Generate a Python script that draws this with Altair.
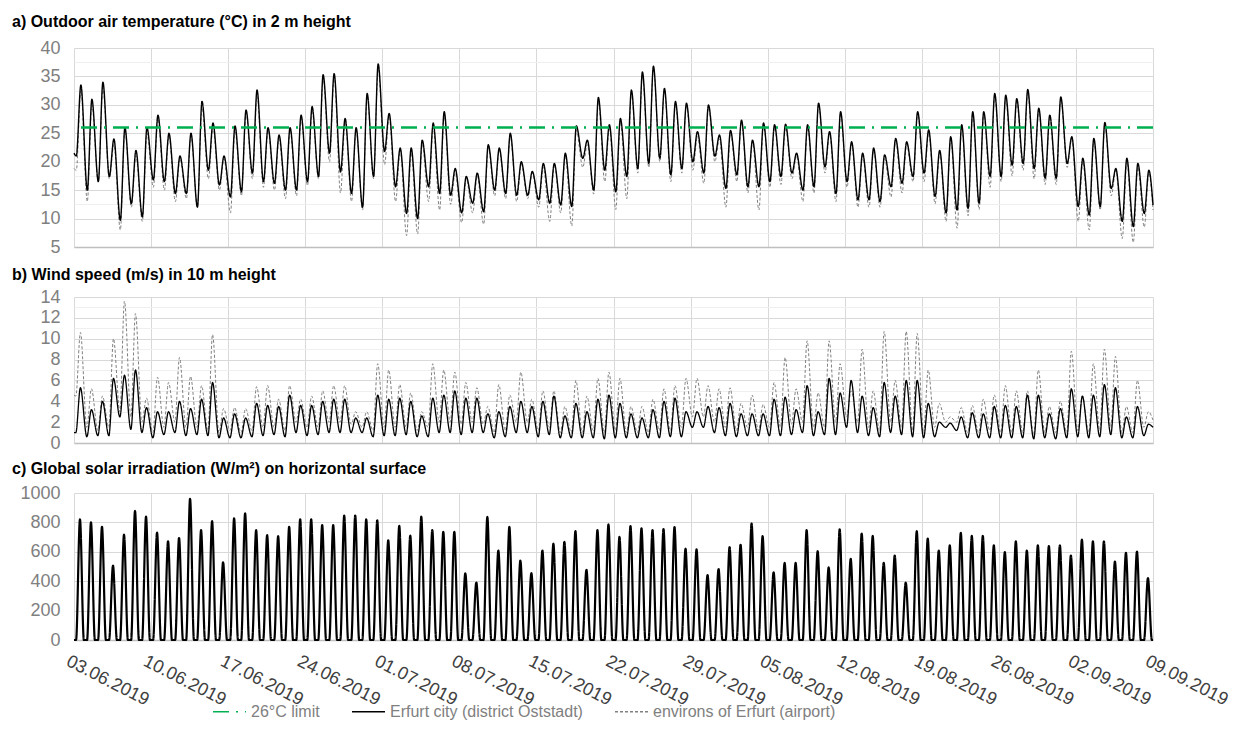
import altair as alt
import pandas as pd

FONT = "Liberation Sans"

TICK_LABELS = ["03.06.2019", "10.06.2019", "17.06.2019", "24.06.2019", "01.07.2019",
               "08.07.2019", "15.07.2019", "22.07.2019", "29.07.2019", "05.08.2019",
               "12.08.2019", "19.08.2019", "26.08.2019", "02.09.2019", "09.09.2019"]
SERIES = ["26°C limit", "Erfurt city (district Oststadt)", "environs of Erfurt (airport)"]
COLORS = ["#00b050", "#000000", "#808080"]
DASHES = [[16, 7, 2, 7], [1, 0], [3, 2]]
LIMIT_C = 26.0

TITLE_A = "a) Outdoor air temperature (°C) in 2 m height"
TITLE_B = "b) Wind speed (m/s) in 10 m height"
TITLE_C = "c) Global solar irradiation (W/m²) on horizontal surface"

# ---- a) temperature: daily maximum (afternoon) and morning minimum
TEMP_CITY_MAX = [33.5, 31, 34, 24, 26, 22, 26, 28.2, 25, 21,
                 25, 30.6, 26.8, 21, 26.3, 29.1, 32.6, 26, 24.7, 26,
                 28.2, 29.7, 35.3, 35.5, 27.6, 26, 32, 37.2, 28.5, 22.4,
                 22.4, 23.8, 26.8, 28.8, 18.8, 17.4, 18, 23, 22.4, 25,
                 20, 18.3, 19.7, 19.7, 21.5, 26.3, 23.8, 31.3, 26.5, 27.6,
                 32.6, 35.8, 36.8, 32.9, 30.6, 30.3, 25.3, 30, 24.7, 25.5,
                 27.3, 23.8, 26.8, 26.5, 26.6, 21.5, 26.5, 30.3, 25.3, 28.8,
                 23.5, 21.5, 22.4, 21.2, 24.1, 23.5, 28.8, 25.6, 22, 24.4,
                 26.5, 28.8, 28.8, 32, 31.7, 31.1, 32.7, 29.4, 28.2, 31.4,
                 24.4, 20.6, 24.1, 26.9, 18.8, 20.6, 19.7, 18.5]
TEMP_CITY_MIN = [21, 15, 16.5, 17.4, 9.7, 12.6, 10.3, 16.8, 16.5, 14.4,
                 14.4, 12, 18.5, 15.9, 13.8, 14.7, 18, 16.5, 16.2, 15,
                 15, 16.5, 17.4, 21.5, 18.2, 14.4, 12, 17.4, 21.8, 15.6,
                 10.9, 10, 15.6, 14.4, 14.1, 11, 12.7, 11.2, 15, 14.4,
                 14.1, 14.1, 13.3, 12.7, 12.4, 12.1, 20.6, 15, 18.5, 14.7,
                 17.4, 18.8, 19.7, 20.6, 17.7, 18.8, 20, 18, 21, 15.3,
                 17.7, 15.6, 15.6, 16.5, 17.4, 18, 15, 15.6, 19.1, 14.4,
                 16.5, 13.3, 13.3, 13, 15.6, 16.2, 17.4, 18, 13.9, 11,
                 11.5, 11.8, 12.7, 17.4, 17.4, 19.4, 19.7, 18.8, 17.1, 17.1,
                 19.7, 12.1, 10.6, 12.1, 15.3, 9.5, 8.6, 10.9, 12.4]
TEMP_AIR_MAX = [32.5, 30, 33, 23, 25.5, 21, 25, 27.5, 24.5, 20.5,
                24.5, 29.5, 26, 20.5, 25.5, 28.5, 31.5, 25.5, 24, 25.5,
                27.5, 29, 34.5, 35, 27, 25.5, 31.5, 36.5, 28, 22,
                21.5, 23, 26, 28, 18, 17, 17.5, 22.5, 22, 24.5,
                19.5, 18, 19, 19.5, 21, 25.5, 23, 30.5, 26, 27,
                32, 35, 36.5, 32.5, 30, 30, 24.5, 29.5, 24, 25,
                27, 23.5, 26.5, 26, 26, 21, 26, 30, 25, 28.5,
                23, 21, 22, 20.5, 23.5, 23, 28.5, 25, 21.5, 24,
                26, 28.5, 28.5, 31.5, 31, 30.5, 32, 29, 27.5, 31,
                24, 20, 23.5, 26.5, 18.5, 20, 19, 18]
TEMP_AIR_MIN = [18.5, 13, 16.5, 17, 8, 12, 9.5, 15.5, 15, 13,
                13.5, 12, 17, 15, 11, 14, 17, 15.5, 15, 13.5,
                14, 15.8, 17, 20, 14.5, 13, 11.5, 17, 19.5, 13,
                7, 7.3, 13, 11.5, 12.5, 9.3, 11, 9, 14, 13.5,
                13, 13.5, 12, 9.5, 11, 8.7, 19, 14.3, 16.5, 11.6,
                13.5, 18, 19, 20, 16.5, 18, 18.5, 16.2, 20, 12,
                16.5, 14.5, 11.5, 15.5, 16, 17, 13, 14.5, 18, 13,
                15.5, 12, 12, 12, 13.8, 14.5, 16.5, 16.5, 12.6, 9.5,
                8.3, 10.5, 11.6, 15.5, 16.5, 17.5, 18.5, 17, 16, 16,
                19, 9.5, 8, 11.5, 14, 6.5, 5.8, 8.5, 11.5]
TEMP_START = [21.5, 18.8]  # city, airport at 03.06 00:00

# ---- b) wind speed: daily maximum and night minimum
WIND_CITY_MAX = [5.3, 3.2, 4, 6.2, 6.5, 7, 3.4, 3, 3, 4,
                 3.3, 4.2, 5.8, 2.4, 2.8, 2.4, 3.8, 3.6, 3.5, 4.6,
                 3.6, 3.6, 4, 4.2, 4.2, 2.4, 2.4, 4.6, 4.2, 4.3,
                 4, 2.6, 4.3, 4.6, 5, 4.3, 4.3, 2.8, 3, 3.5,
                 4, 3.5, 4, 4.5, 2.6, 3.8, 3, 4.2, 4.6, 3.8,
                 2.8, 2.4, 3.2, 4, 4.3, 3, 3, 3.5, 3.4, 3.8,
                 2.8, 2.8, 2.8, 4.2, 4.4, 3.2, 5.5, 3, 6.2, 4.8,
                 6, 4.5, 3.4, 5.8, 4.5, 6, 6, 3.8, 2, 1.9,
                 2.5, 2.9, 2.8, 3.5, 3.6, 3.5, 4.6, 4.6, 2.8, 3.3,
                 5.2, 4.5, 4.6, 5.6, 5.3, 2.5, 3.5, 1.8]
WIND_CITY_MIN = [1, 0.6, 0.7, 0.7, 2.5, 1.3, 1, 0.5, 0.8, 1,
                 0.7, 0.8, 0.7, 0.5, 0.5, 0.5, 0.6, 0.7, 0.8, 0.6,
                 1, 0.7, 0.8, 1, 1, 1, 1, 0.6, 0.7, 0.7,
                 0.8, 0.6, 0.6, 1, 1, 0.8, 1, 1, 0.5, 0.6,
                 1, 1, 0.6, 0.8, 0.5, 0.5, 0.5, 0.5, 0.4, 0.5,
                 0.5, 0.5, 0.5, 0.5, 0.6, 0.6, 1.5, 1.5, 1, 0.7,
                 0.6, 0.7, 0.7, 0.7, 0.7, 0.8, 1, 0.7, 0.8, 0.8,
                 1.5, 1, 0.7, 0.6, 1, 0.8, 0.6, 0.5, 0.6, 1.5,
                 1.2, 0.5, 0.5, 0.5, 0.5, 0.5, 0.5, 0.4, 0.5, 0.4,
                 0.5, 0.6, 0.5, 0.6, 0.8, 0.5, 0.5, 0.7, 1.5]
WIND_AIR_MAX = [10.6, 5.2, 4.5, 10, 13.6, 12.4, 4.3, 6.3, 5.8, 8.2,
                6.4, 5.5, 10.4, 3.3, 3.4, 3.3, 5.4, 5.5, 4.2, 5.5,
                4.2, 4.5, 5, 5.5, 5.5, 3, 3, 7.6, 7, 5.6,
                4.8, 3, 7.6, 7, 6.8, 5.8, 5.3, 3.5, 5.6, 4.6,
                6.8, 4.2, 5, 5, 3.5, 6, 4.5, 6.2, 6.8, 6.2,
                3.5, 3.5, 4.2, 5.2, 5.5, 6.2, 6.2, 5.5, 5.2, 5.3,
                3.8, 4.6, 3.7, 5.8, 8.2, 5.2, 9.8, 4.8, 9.8, 7.6,
                5, 9, 5, 10.7, 6, 10.7, 10.5, 7, 3.8, 2.5,
                3.4, 3.6, 4.2, 4.6, 5.5, 5, 5, 7, 3.5, 4,
                8.8, 4.5, 7.6, 9, 8.3, 3.5, 6, 3]
WIND_AIR_MIN = [4.5, 1.5, 1.2, 1.5, 3, 2.5, 2, 1, 1.5, 2,
                1.5, 1.5, 1.2, 1, 1.2, 1, 1.2, 1.5, 1.5, 1.2,
                2, 1.5, 1.5, 2, 2, 1.8, 1.5, 1.2, 1.5, 1.5,
                1.5, 1.2, 1.5, 2, 2, 1.8, 2, 1.8, 1, 1.2,
                2, 2, 1.2, 1.5, 1, 1, 1, 1.2, 1, 1.2,
                1, 1, 1, 1.2, 1.2, 1.5, 2.5, 2.5, 2, 1.5,
                1.2, 1.5, 1.2, 1.5, 1.5, 1.8, 2, 1.5, 1.5, 2,
                2.5, 2, 1.5, 1.2, 2, 1.5, 1.2, 1, 1.5, 2,
                2, 1, 1, 1.2, 1, 1, 1, 0.8, 1, 1,
                1, 1.2, 1, 1.2, 1.5, 1, 1, 1.5, 2.2]
WIND_START = [1.0, 4.6]

# ---- c) global solar irradiation: daily midday peak
SOLAR_PEAK = [821, 800, 770, 506, 717, 878, 839, 731, 671, 694,
              961, 747, 809, 529, 828, 862, 747, 713, 706, 770,
              821, 821, 782, 782, 846, 846, 821, 814, 678, 777,
              710, 839, 747, 736, 736, 453, 391, 837, 609, 770,
              540, 455, 609, 655, 667, 740, 478, 747, 786, 701,
              775, 759, 747, 754, 768, 621, 616, 441, 483, 632,
              648, 793, 706, 460, 524, 524, 747, 605, 494, 752,
              552, 724, 708, 524, 575, 391, 740, 690, 609, 644,
              729, 708, 708, 644, 598, 671, 609, 644, 639, 644,
              575, 683, 671, 671, 533, 593, 602, 421]

START = pd.Timestamp("2019-06-03 00:00:00")


def at(day, hour):
    return START + pd.Timedelta(days=day, hours=hour)


def finish(rows, series):
    df = pd.DataFrame(rows, columns=["time", "value"])
    df["time"] = df["time"].dt.strftime("%Y-%m-%dT%H:%M:%S")
    df["series"] = series
    return df


def diurnal(mins, maxs, start_val, h_min, h_max, series):
    rows = [(at(0, 0), start_val)]
    for d, hi in enumerate(maxs):
        rows.append((at(d, h_min), mins[d]))
        rows.append((at(d, h_max), hi))
    rows.append((at(len(maxs), 0), mins[len(maxs)]))
    return finish(rows, series)


temp_city = diurnal(TEMP_CITY_MIN, TEMP_CITY_MAX, TEMP_START[0], 5, 15, SERIES[1])
temp_air = diurnal(TEMP_AIR_MIN, TEMP_AIR_MAX, TEMP_START[1], 5, 15, SERIES[2])
wind_city = diurnal(WIND_CITY_MIN, WIND_CITY_MAX, WIND_START[0], 4, 14, SERIES[1])
wind_air = diurnal(WIND_AIR_MIN, WIND_AIR_MAX, WIND_START[1], 4, 14, SERIES[2])

solar_rows = []
for d, p in enumerate(SOLAR_PEAK):
    solar_rows += [(at(d, 0), 0), (at(d, 4.5), 0), (at(d, 13), p), (at(d, 21.5), 0)]
solar_rows.append((at(len(SOLAR_PEAK), 0), 0))
solar = finish(solar_rows, SERIES[1])

limit = pd.DataFrame({"series": [SERIES[0]], "value": [LIMIT_C]})


def dt(s):
    d, m, y = s.split(".")
    return alt.DateTime(year=int(y), month=int(m), date=int(d))


TICK_VALUES = [dt(s) for s in TICK_LABELS]
X_SCALE = alt.Scale(domain=[TICK_VALUES[0], TICK_VALUES[-1]])

LEGEND = alt.Legend(title=None, orient="none", legendX=138, legendY=646,
                    direction="horizontal", symbolType="stroke", symbolSize=1089,
                    symbolStrokeWidth=1.5, labelFontSize=16, labelColor="#808080",
                    labelFont=FONT, labelOffset=4, columnPadding=29, labelLimit=400,
                    padding=0)
COLOR = alt.Color("series:N", scale=alt.Scale(domain=SERIES, range=COLORS), legend=LEGEND)
DASH = alt.StrokeDash("series:N", scale=alt.Scale(domain=SERIES, range=DASHES), legend=LEGEND)


def x_enc(show_labels):
    return alt.X("time:T", scale=X_SCALE, axis=alt.Axis(
        values=TICK_VALUES, title=None, grid=True, gridColor="#d9d9d9", gridWidth=1,
        ticks=False, tickSize=0, domain=True, domainColor="#bfbfbf", domainWidth=1.5,
        labels=show_labels, format="%d.%m.%Y", formatType="time", labelAngle=27,
        labelAlign="left", labelBaseline="top", labelPadding=12, labelOffset=-3,
        labelFontSize=18, labelColor="#404040", labelFont=FONT, labelFlush=False,
        labelOverlap=False, labelBound=False))


def y_enc(lo, hi, step, major):
    n = int(round((hi - lo) / step))
    values = [lo + i * step for i in range(n + 1)]
    return alt.Y("value:Q", scale=alt.Scale(domain=[lo, hi], nice=False, zero=False),
                 axis=alt.Axis(
                     values=values, title=None, domain=False, ticks=False, tickSize=0,
                     labelPadding=14, labelFontSize=18, labelColor="#808080",
                     labelFont=FONT, labelFlush=False, format="d",
                     labelExpr=f"datum.value % {major} === 0 ? datum.label : ''",
                     gridColor={"condition": {"test": f"datum.value % {major} === 0",
                                              "value": "#d9d9d9"},
                                "value": "#efefef"},
                     gridWidth=1))


def title(text, offset):
    return alt.TitleParams(text=text, anchor="start", frame="group", dx=-62, offset=offset,
                           fontSize=16, fontWeight="bold", font=FONT, color="#000000")


W = 1079

ya = y_enc(5, 40, 2.5, 5)
panel_a = alt.layer(
    alt.Chart(temp_air).mark_line(strokeWidth=1, interpolate="monotone").encode(
        x=x_enc(False), y=ya, color=COLOR, strokeDash=DASH),
    alt.Chart(temp_city).mark_line(strokeWidth=1.4, interpolate="monotone").encode(
        x=x_enc(False), y=ya, color=COLOR, strokeDash=DASH),
    alt.Chart(limit).mark_rule(strokeWidth=2.5).encode(
        y=ya, color=COLOR, strokeDash=DASH),
).properties(width=W, height=199, title=title(TITLE_A, 9))

yb = y_enc(0, 14, 1, 2)
panel_b = alt.layer(
    alt.Chart(wind_air).mark_line(strokeWidth=1, interpolate="monotone").encode(
        x=x_enc(False), y=yb, color=COLOR, strokeDash=DASH),
    alt.Chart(wind_city).mark_line(strokeWidth=1.3, interpolate="monotone").encode(
        x=x_enc(False), y=yb, color=COLOR, strokeDash=DASH),
).properties(width=W, height=146, title=title(TITLE_B, 5))

yc = y_enc(0, 1000, 200, 200)
panel_c = alt.Chart(solar).mark_line(strokeWidth=2.2, interpolate="monotone").encode(
    x=x_enc(True), y=yc, color=COLOR, strokeDash=DASH
).properties(width=W, height=147, title=title(TITLE_C, 7))

chart = alt.vconcat(panel_a, panel_b, panel_c, spacing=50, bounds="flush").resolve_scale(
    color="shared", strokeDash="shared"
).properties(
    padding={"left": 12, "top": 14, "right": 10, "bottom": 5}
).configure(font=FONT).configure_view(strokeWidth=0)

chart.save("out.html", embed_options={"renderer": "svg", "actions": False})
